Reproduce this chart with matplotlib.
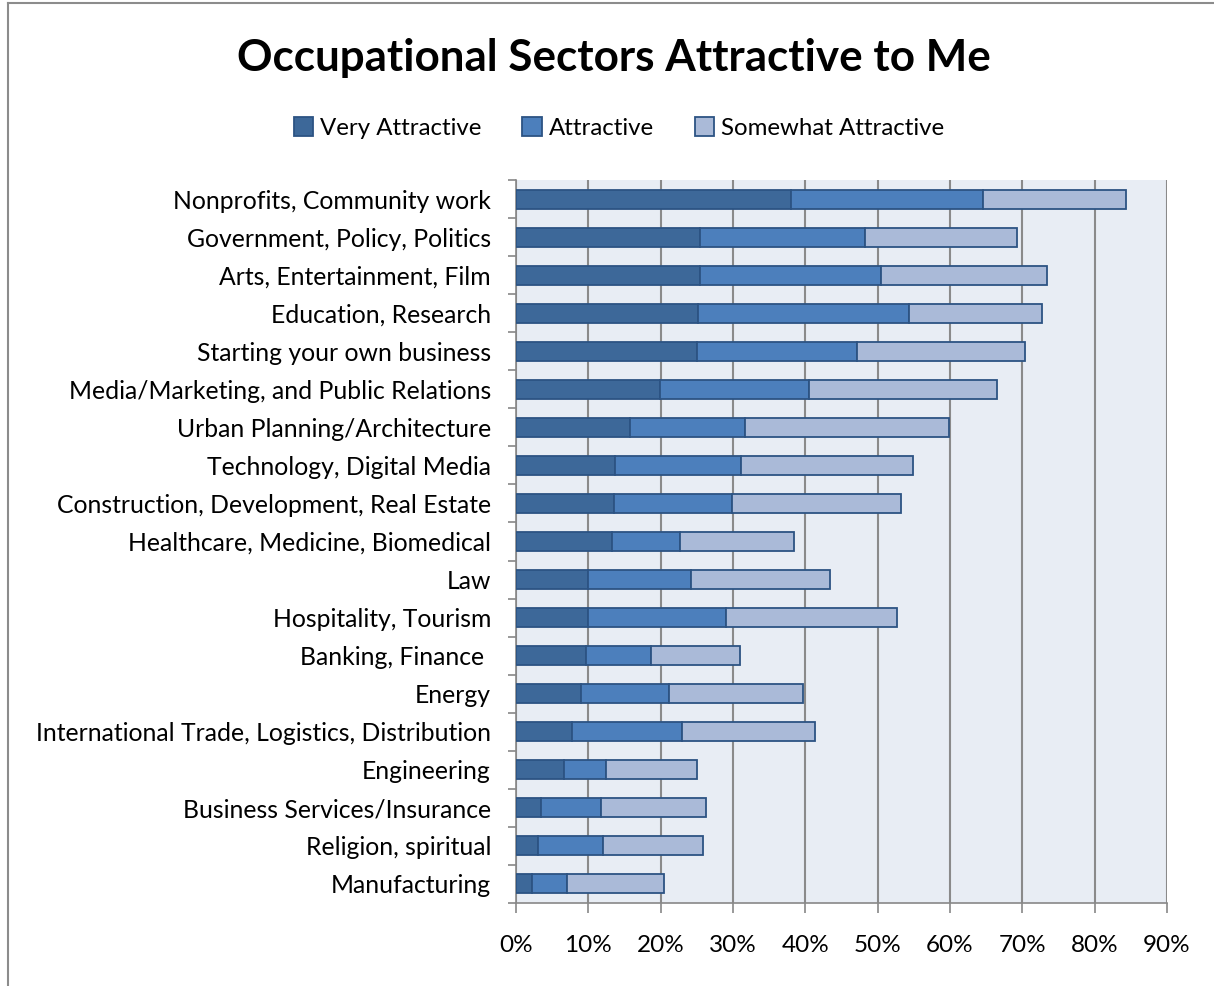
import numpy as np
import matplotlib
matplotlib.use("Agg")
import matplotlib.pyplot as plt
from matplotlib.ticker import PercentFormatter
from matplotlib.lines import Line2D

plt.rcParams['font.family'] = ['Lato', 'DejaVu Sans']

sectors = [
    "Nonprofits, Community work",
    "Government, Policy, Politics",
    "Arts, Entertainment, Film",
    "Education, Research",
    "Starting your own business",
    "Media/Marketing, and Public Relations",
    "Urban Planning/Architecture",
    "Technology, Digital Media",
    "Construction, Development, Real Estate",
    "Healthcare, Medicine, Biomedical",
    "Law",
    "Hospitality, Tourism",
    "Banking, Finance ",
    "Energy",
    "International Trade, Logistics, Distribution",
    "Engineering",
    "Business Services/Insurance",
    "Religion, spiritual",
    "Manufacturing",
]

# percentages per segment
very_attractive = [38.0, 25.5, 25.5, 25.2, 25.0, 19.9, 15.7, 13.7, 13.5, 13.3,
                   9.9, 9.9, 9.7, 9.0, 7.8, 6.7, 3.4, 3.0, 2.2]
attractive = [26.6, 22.8, 25.0, 29.2, 22.2, 20.6, 16.0, 17.4, 16.3, 9.4,
              14.3, 19.1, 9.0, 12.2, 15.2, 5.8, 8.4, 9.0, 4.8]
somewhat_attractive = [19.8, 20.9, 22.9, 18.3, 23.2, 26.0, 28.2, 23.8, 23.4, 15.8,
                       19.2, 23.7, 12.3, 18.5, 18.3, 12.5, 14.5, 13.9, 13.4]

series_names = ["Very Attractive", "Attractive", "Somewhat Attractive"]
colors = ["#3D6899", "#4C7FBC", "#AABAD8"]
edge = "#2C5383"

fig = plt.figure(figsize=(12.14, 9.86), dpi=100)
ax = fig.add_axes([516 / 1214, 1 - 903 / 986, (1167 - 516) / 1214, (903 - 180) / 986])
ax.set_facecolor("#E8EDF4")

y = np.arange(len(sectors))
left = np.zeros(len(sectors))
for vals, name, c in zip([very_attractive, attractive, somewhat_attractive], series_names, colors):
    ax.barh(y, vals, left=left, height=0.5, color=c, edgecolor=edge, linewidth=1.3,
            label=name, zorder=3)
    left = left + np.array(vals)

ax.set_xlim(0, 90)
ax.set_ylim(len(sectors) - 0.5, -0.5)
ax.set_xticks(np.arange(0, 91, 10))
ax.xaxis.set_major_formatter(PercentFormatter(decimals=0))
ax.set_yticks(y)
ax.set_yticklabels(sectors)
ax.set_yticks(np.arange(-0.5, len(sectors), 1), minor=True)
ax.tick_params(axis='y', which='major', length=0, pad=18, labelsize=17.8, labelcolor='black')
ax.tick_params(axis='y', which='minor', length=6, width=1.2, color='#888888', direction='out')
ax.tick_params(axis='x', length=7, width=1.2, color='#888888', pad=16, labelsize=17.5)

ax.grid(axis='x', color='#8A8A8A', linewidth=1.5, zorder=0)
ax.set_axisbelow(True)
for s in ['top', 'right']:
    ax.spines[s].set_visible(False)
for s in ['left', 'bottom']:
    ax.spines[s].set_color('#888888')
    ax.spines[s].set_linewidth(1.2)

fig.text(614 / 1214, 1 - 58 / 986, "Occupational Sectors Attractive to Me", ha='center', va='center',
         fontsize=31.7, fontweight='bold')

handles, labels = ax.get_legend_handles_labels()
fig.legend(handles, labels, loc='center', bbox_to_anchor=(619 / 1214, 1 - 128 / 986), ncol=3,
           frameon=False, fontsize=17.3, handlelength=0.8, handleheight=0.8,
           handletextpad=0.3, columnspacing=1.7)

# chart area border (top and left visible)
fig.add_artist(Line2D([8 / 1214, 8 / 1214], [0, 1 - 3 / 986], color='#8C8C8C', linewidth=1.5))
fig.add_artist(Line2D([8 / 1214, 1], [1 - 3 / 986, 1 - 3 / 986], color='#8C8C8C', linewidth=1.5))

fig.savefig("out.png", dpi=100)
